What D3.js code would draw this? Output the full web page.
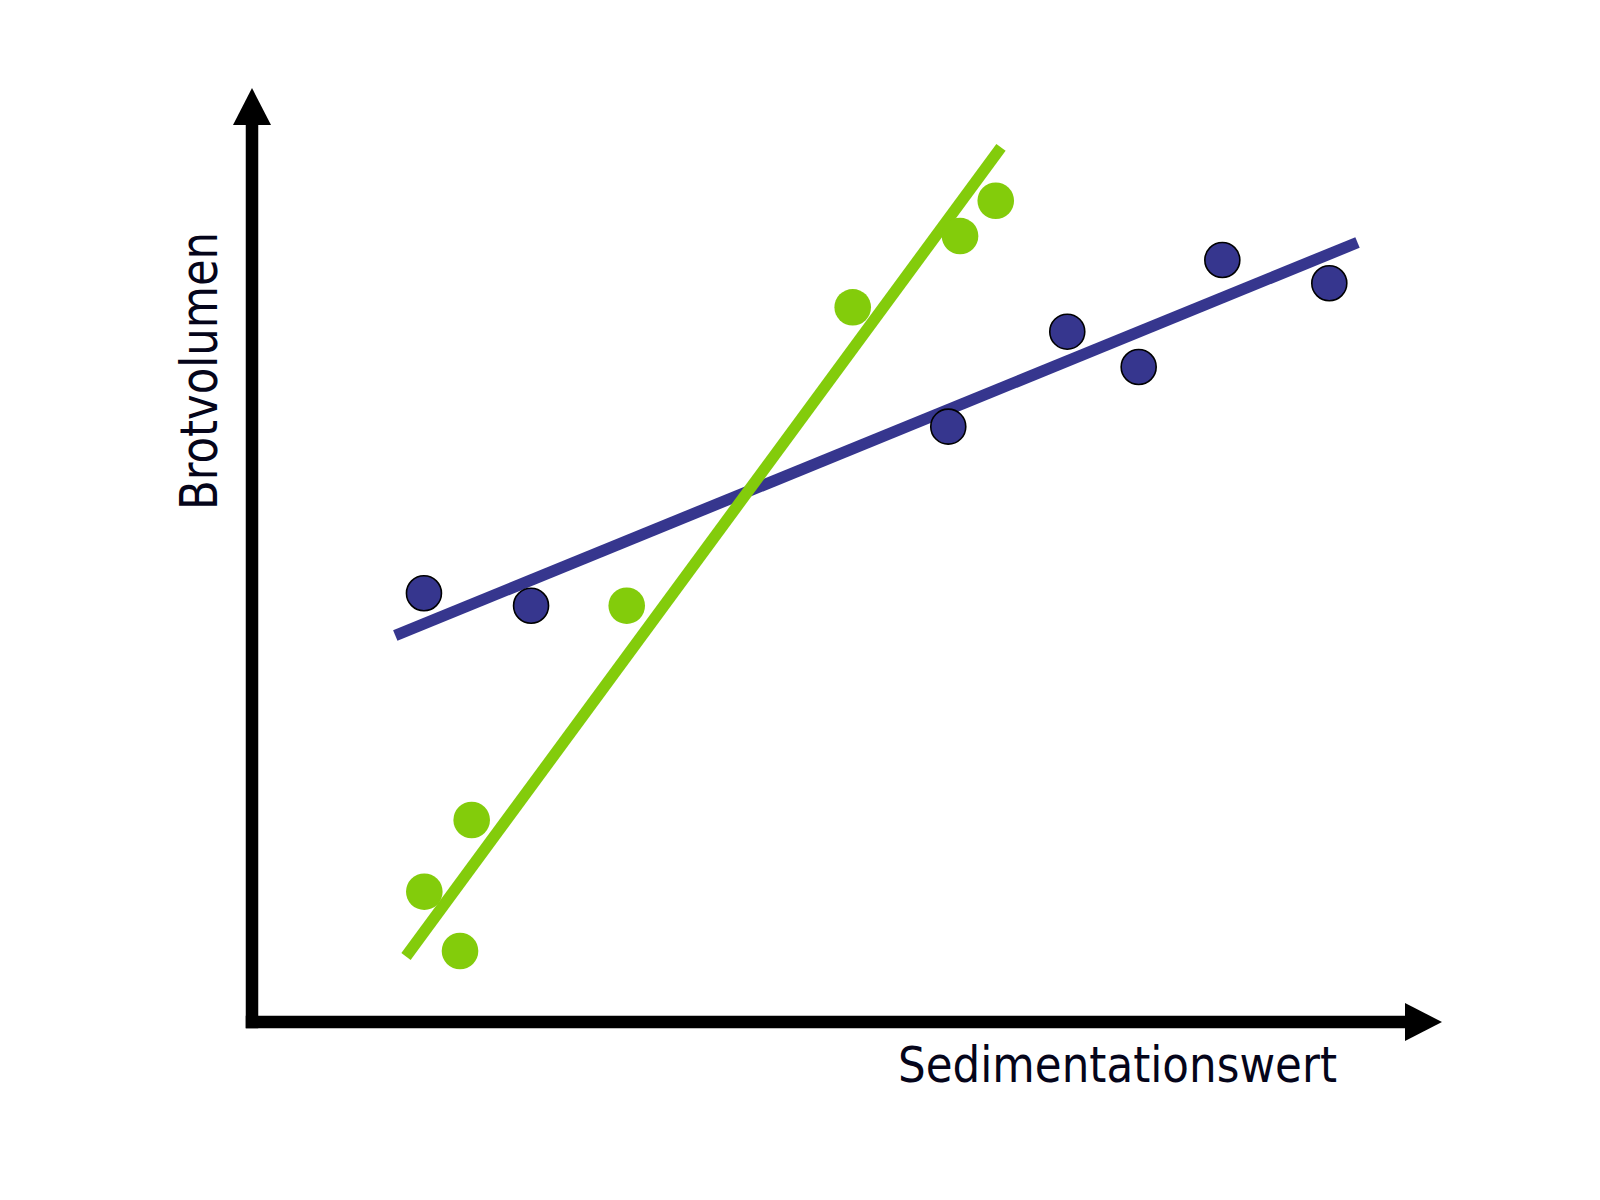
<!DOCTYPE html>
<html>
<head>
<meta charset="utf-8">
<script src="https://cdn.jsdelivr.net/npm/d3@7"></script>
<style>
  html, body { margin: 0; padding: 0; background: #ffffff; }
  svg { display: block; }
</style>
</head>
<body>
<script>
// ---- Data (arbitrary units 0..100) ----
const blueX = [14.45, 23.45, 58.51, 68.51, 74.51, 81.54, 90.53];
const blueY = [45.90, 44.57, 63.74, 73.91, 70.13, 81.58, 79.09];
const greenX = [14.48, 17.48, 18.46, 31.49, 50.48, 59.50, 62.50];
const greenY = [13.95, 7.60, 21.63, 44.57, 76.52, 84.15, 87.93];
// trend line end points [x1, x2] and [y1, y2]
const blueTrendX = [12.04, 92.90];
const blueTrendY = [41.38, 83.46];
const greenTrendX = [12.94, 62.94];
const greenTrendY = [7.01, 93.65];
const xLabel = "Sedimentationswert";
const yLabel = "Brotvolumen";

const W = 1600, H = 1200;
const BLUE = "#36368e", GREEN = "#83cc0b";

const svg = d3.select("body").append("svg").attr("width", W).attr("height", H);

const x = d3.scaleLinear().domain([0, 100]).range([252, 1442]);
const y = d3.scaleLinear().domain([0, 100]).range([1022, 88]);

// ---- Axes with arrowheads ----
const head = 37;   // arrowhead length
const half = 19;   // arrowhead half width
const ax = svg.append("g");
ax.append("line")
  .attr("x1", x(0)).attr("y1", y(0) + 6.25)
  .attr("x2", x(0)).attr("y2", y(100) + head)
  .attr("stroke", "#000").attr("stroke-width", 12.5);
ax.append("line")
  .attr("x1", x(0) - 6.25).attr("y1", y(0))
  .attr("x2", x(100) - head).attr("y2", y(0))
  .attr("stroke", "#000").attr("stroke-width", 12.5);
ax.append("path")
  .attr("d", d3.line()([[x(0), y(100)], [x(0) - half, y(100) + head], [x(0) + half, y(100) + head]]) + "Z")
  .attr("fill", "#000");
ax.append("path")
  .attr("d", d3.line()([[x(100), y(0)], [x(100) - head, y(0) - half], [x(100) - head, y(0) + half]]) + "Z")
  .attr("fill", "#000");

// ---- Trend lines ----
function trend(xs, ys, color) {
  svg.append("path")
    .attr("d", d3.line().x(d => x(d[0])).y(d => y(d[1]))(d3.zip(xs, ys)))
    .attr("stroke", color).attr("stroke-width", 11.5)
    .attr("stroke-linecap", "butt").attr("fill", "none");
}
trend(blueTrendX, blueTrendY, BLUE);
trend(greenTrendX, greenTrendY, GREEN);

// ---- Points ----
svg.append("g").selectAll("circle")
  .data(d3.zip(greenX, greenY)).join("circle")
  .attr("cx", d => x(d[0])).attr("cy", d => y(d[1])).attr("r", 18.3)
  .attr("fill", GREEN);
svg.append("g").selectAll("circle")
  .data(d3.zip(blueX, blueY)).join("circle")
  .attr("cx", d => x(d[0])).attr("cy", d => y(d[1])).attr("r", 17.5)
  .attr("fill", BLUE).attr("stroke", "#000").attr("stroke-width", 1.6);

// ---- Labels ----
svg.append("text")
  .attr("x", 898).attr("y", 1082)
  .attr("font-family", "DejaVu Sans, Verdana, sans-serif")
  .attr("font-size", 50)
  .attr("textLength", 439).attr("lengthAdjust", "spacingAndGlyphs")
  .attr("fill", "#05051a")
  .text(xLabel);
svg.append("text")
  .attr("transform", "translate(217,510) rotate(-90)")
  .attr("font-family", "DejaVu Sans, Verdana, sans-serif")
  .attr("font-size", 52)
  .attr("textLength", 278).attr("lengthAdjust", "spacingAndGlyphs")
  .attr("fill", "#05051a")
  .text(yLabel);
</script>
</body>
</html>
